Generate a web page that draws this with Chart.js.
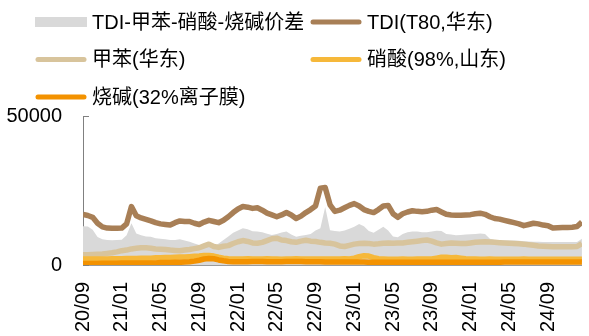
<!DOCTYPE html>
<html>
<head>
<meta charset="utf-8">
<script src="https://cdn.jsdelivr.net/npm/chart.js@4"></script>
<style>
html, body { margin: 0; padding: 0; background: #fff; }
</style>
</head>
<body>
<canvas id="tdiSpread" width="589" height="336"></canvas>
<script>
// half-month samples, first point = 2020/09
const step = 0.5;
const tickLabels = ["20/09","21/01","21/05","21/09","22/01","22/05","22/09","23/01","23/05","23/09","24/01","24/05","24/09"];

const seriesNames = ["TDI-甲苯-硝酸-烧碱价差", "TDI(T80,华东)", "甲苯(华东)", "硝酸(98%,山东)", "烧碱(32%离子膜)"];

const spread = [
  13000,12900,11800,9400,8600,8400,8300,8400,
  8500,10000,14000,10600,10000,9600,9500,9000,
  8800,8600,8400,8400,8600,8200,7800,7200,
  6700,6500,6200,6300,7200,8400,9600,10800,
  11600,12300,12000,11300,11200,11000,10500,10100,
  10400,10900,11200,10200,9500,9800,10100,10400,
  11600,12300,19500,11700,11400,11200,11600,12200,
  12800,13800,13000,11400,10800,11800,12800,11600,
  9600,9300,10400,11000,11200,11200,11000,11000,
  11200,11500,11400,10400,10200,10000,10100,10200,
  10300,10400,10600,10400,8800,8400,8300,8200,
  8200,8200,8100,8000,7900,7800,7800,7700,
  7700,7700,7700,7700,7700,7700,7700,8800
];
const tdi = [
  17000,16600,16000,14000,12800,12400,12300,12300,
  12400,13800,19600,16500,15800,15300,14800,14200,
  13800,13600,13400,14200,14800,14600,14600,14000,
  13600,14400,15000,14600,14200,15000,16200,17600,
  18800,19600,19400,19000,19200,18400,17400,16800,
  16200,16800,17600,16800,15600,16400,17600,18600,
  19800,25800,26000,20200,18000,18400,19200,20000,
  20600,19800,18600,18000,17600,18600,19800,20000,
  17200,16000,17200,17800,18200,18000,17900,18000,
  18400,18600,17800,17000,16800,16700,16700,16800,
  16900,17200,17400,17000,16200,15600,15400,15000,
  14600,14200,13800,13200,13600,14000,13800,13400,
  13200,12400,12500,12600,12600,12700,12900,14400
];
const toluene = [
  3400,3400,3500,3600,3700,3900,4100,4400,
  4800,5000,5400,5600,5800,5800,5600,5400,
  5300,5200,5000,4900,4800,5000,5200,5500,
  5800,6400,7000,6200,5900,6300,6500,7200,
  7800,8200,7900,7400,7300,7600,8200,8800,
  9000,8400,8200,7800,7600,8000,8300,8000,
  7900,7600,7400,7300,7000,6400,6200,6600,
  7000,7200,7300,7200,7000,7100,7300,7400,
  7300,7400,7400,7600,7800,8000,8200,8400,
  8000,7400,7000,7200,7400,7300,7200,7200,
  7400,7600,7700,7800,7700,7600,7500,7400,
  7300,7200,7100,7000,6800,6600,6400,6300,
  6200,6100,6100,6100,6100,6100,6200,7200
];
const nitricAcid = [
  2000,2000,2000,2000,2000,2000,2100,2100,
  2100,2200,2200,2200,2300,2300,2300,2400,
  2400,2500,2500,2600,2700,2700,2800,2900,
  3000,3200,3200,3000,2600,2300,2100,2000,
  2000,2000,2100,2000,2000,2000,2100,2000,
  2000,1900,2000,2000,2100,2000,2000,2000,
  2000,2000,2000,2000,2000,2000,2100,2000,
  2300,2800,3100,3000,2500,2100,2000,1900,
  1900,1900,2000,1900,1900,2000,2000,2000,
  2000,2300,2600,2600,2400,2500,2300,2100,
  2000,2000,1900,1900,2000,1900,1900,1900,
  1900,1900,1900,2000,1900,1900,1900,1900,
  1900,1900,1900,1900,1900,1900,1900,1900
];
const causticSoda = [
  500,500,500,500,600,600,600,600,
  700,700,700,700,700,700,700,700,
  800,800,800,900,900,1000,1100,1300,
  1600,2000,2200,2100,1700,1400,1200,1100,
  1100,1100,1100,1200,1200,1200,1100,1100,
  1100,1100,1200,1200,1200,1200,1100,1100,
  1100,1100,1000,1000,1000,1000,1000,1000,
  1000,1000,1000,900,900,900,900,900,
  900,900,900,900,900,900,900,900,
  900,900,900,900,900,900,900,900,
  900,900,900,900,900,900,900,1000,
  1000,1000,1000,1000,1000,1000,1000,1000,
  1000,1000,1000,1000,1000,1000,1000,1000
];

const colors = ["#d9d9d9", "#a87f56", "#d8c49c", "#f6b83a", "#f39200"];

function pts(arr) {
  return arr.map((v, i) => ({ x: i * step, y: v }));
}

const FONT = "'Liberation Sans', Arial, 'Noto Sans CJK SC', sans-serif";

// two-column legend + inward y ticks
const legendGrid = {
  id: "legendGrid",
  afterDraw(chart) {
    const ctx = chart.ctx;
    const yScale = chart.scales.y;
    ctx.save();
    ctx.strokeStyle = "#808080";
    ctx.lineWidth = 1;
    yScale.ticks.forEach(t => {
      const py = Math.round(yScale.getPixelForValue(t.value)) + 0.5;
      ctx.beginPath();
      ctx.moveTo(yScale.right, py);
      ctx.lineTo(yScale.right + 6, py);
      ctx.stroke();
    });

    const cols = [35, 310];
    const rows = [22, 59.5, 97];
    const swW = 52;
    ctx.font = "20px " + FONT;
    ctx.textBaseline = "middle";
    ctx.fillStyle = "#000";
    chart.data.datasets.forEach((ds, i) => {
      const x = cols[i % 2];
      const y = rows[Math.floor(i / 2)];
      if (i === 0) {
        ctx.fillStyle = colors[0];
        ctx.fillRect(x, y - 5, swW, 10);
      } else {
        ctx.strokeStyle = colors[i];
        ctx.lineWidth = 5;
        ctx.lineCap = "round";
        ctx.beginPath();
        ctx.moveTo(x + 3, y);
        ctx.lineTo(x + swW - 3, y);
        ctx.stroke();
      }
      ctx.fillStyle = "#000";
      ctx.fillText(ds.label, x + swW + 5, y + 1);
    });
    ctx.restore();
  }
};

const lineStyle = (i, order) => ({
  label: seriesNames[i],
  borderColor: colors[i],
  backgroundColor: colors[i],
  borderWidth: 5.5,
  borderJoinStyle: "round",
  pointRadius: 0,
  fill: false,
  order: order
});

new Chart(document.getElementById("tdiSpread"), {
  type: "line",
  data: {
    datasets: [
      { label: seriesNames[0], data: pts(spread), borderWidth: 0, borderColor: colors[0],
        backgroundColor: colors[0], fill: "origin", pointRadius: 0, order: 5 },
      Object.assign(lineStyle(1, 4), { data: pts(tdi) }),
      Object.assign(lineStyle(2, 3), { data: pts(toluene) }),
      Object.assign(lineStyle(3, 2), { data: pts(nitricAcid) }),
      Object.assign(lineStyle(4, 1), { data: pts(causticSoda) })
    ]
  },
  options: {
    responsive: false,
    animation: false,
    devicePixelRatio: 1,
    layout: { padding: { top: 116, right: 0, bottom: 0, left: 0 } },
    plugins: { legend: { display: false }, tooltip: { enabled: false } },
    scales: {
      x: {
        type: "linear",
        min: 0,
        max: (tdi.length - 1) * step,
        afterBuildTicks: axis => { axis.ticks = tickLabels.map((_, i) => ({ value: i * 4 })); },
        afterFit: axis => { axis.height = 71; },
        grid: { display: true, drawOnChartArea: false, drawTicks: false },
        border: { display: true, color: "#9a9a9a", width: 1 },
        ticks: {
          autoSkip: false,
          minRotation: 90,
          maxRotation: 90,
          padding: 17,
          color: "#000",
          font: { size: 20, family: FONT },
          callback: v => tickLabels[v / 4]
        }
      },
      y: {
        min: 0,
        max: 50000,
        afterFit: axis => { axis.width = 83; },
        grid: { display: true, drawOnChartArea: false, drawTicks: false },
        border: { display: true, color: "#808080", width: 1 },
        ticks: {
          stepSize: 50000,
          padding: 21,
          color: "#000",
          font: { size: 20, family: FONT },
          callback: v => String(v)
        }
      }
    }
  },
  plugins: [legendGrid]
});
</script>
</body>
</html>
